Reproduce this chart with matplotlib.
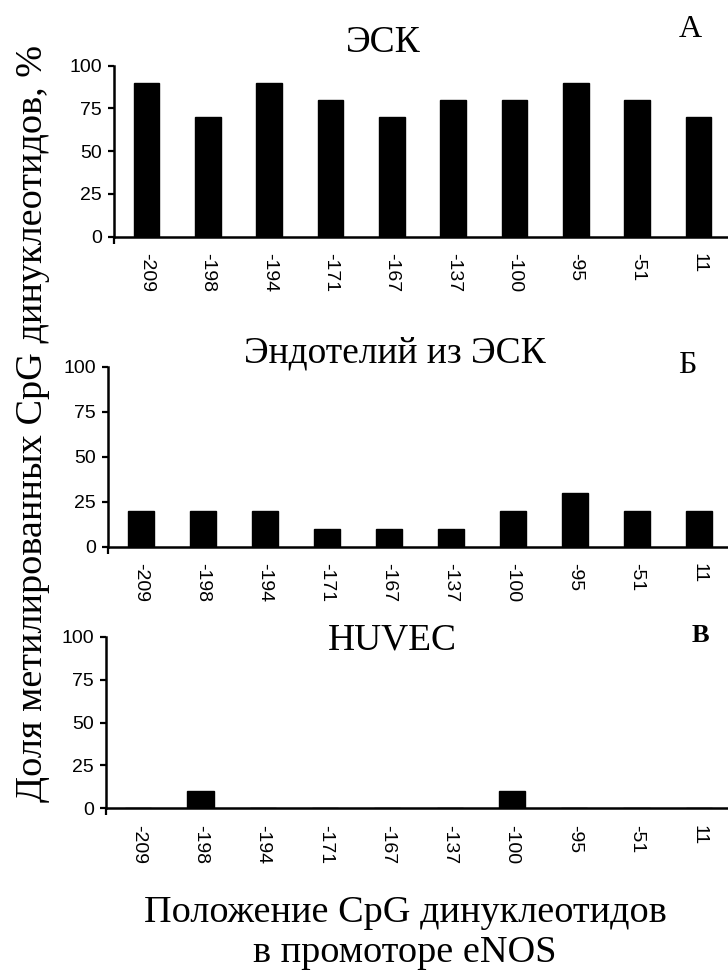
import matplotlib
matplotlib.use('Agg')
import matplotlib.pyplot as plt
import numpy as np

# CpG positions in the eNOS promoter
positions = ['-209', '-198', '-194', '-171', '-167', '-137', '-100', '-95', '-51', '11']

# share of methylated CpG, %
esc = [90, 70, 90, 80, 70, 80, 80, 90, 80, 70]
endo = [20, 20, 20, 10, 10, 10, 20, 30, 20, 20]
huvec = [0, 10, 0, 0, 0, 0, 10, 0, 0, 0]

titles = ['ЭСК', 'Эндотелий из ЭСК', 'HUVEC']
letters = ['А', 'Б', 'В']
yticks = [0, 25, 50, 75, 100]

W, H = 728, 974
SERIF = 'Liberation Serif'
SANS = 'Liberation Sans'

# layout in pixels: y-axis x, y of 100, y of 0, first bar centre, last bar centre
layout = [(113.7, 65.7, 236.7, 146.5, 698.5),
          (107.7, 366.7, 546.6, 140.9, 698.7),
          (105.8, 636.7, 808.3, 138.3, 698.8)]
title_pos = [(383, 52), (395, 363), (392, 650)]
letter_pos = [(690, 37, 'normal', 23), (687, 373, 'normal', 23), (700, 642, 'bold', 19)]

fig = plt.figure(figsize=(W / 100, H / 100), dpi=100)

for k, vals in enumerate([esc, endo, huvec]):
    x0, ytop, ybot, c0, c9 = layout[k]
    ax = fig.add_axes([x0 / W, 1 - ybot / H, 1 - x0 / W, (ybot - ytop) / H])
    step = (c9 - c0) / 9
    left = -(c0 - x0) / step
    ax.set_xlim(left, left + (W - x0) / step)
    ax.set_ylim(0, 100)
    xs = np.arange(len(positions))
    ax.bar(xs, vals, width=0.42, color='black', edgecolor='black', zorder=1)

    for s in ['top', 'right']:
        ax.spines[s].set_visible(False)
    for s in ['left', 'bottom']:
        ax.spines[s].set_linewidth(1.8)
        ax.spines[s].set_zorder(3)

    ax.set_yticks(yticks)
    ax.set_yticklabels([str(t) for t in yticks], fontfamily=SANS, fontsize=14)
    ax.tick_params(axis='y', direction='out', length=4.5, width=1.6, pad=4)

    ax.set_xticks(xs)
    ax.set_xticklabels(positions, rotation=270, fontfamily=SANS, fontsize=14)
    ax.tick_params(axis='x', which='major', length=0, pad=12)
    # small downward tick where the axes cross
    ax.set_xticks([left], minor=True)
    ax.tick_params(axis='x', which='minor', direction='out', length=5, width=1.6)

    tx, ty = title_pos[k]
    fig.text(tx / W, 1 - ty / H, titles[k], ha='center', va='baseline',
             fontfamily=SERIF, fontsize=27)
    lx, ly, lw, ls = letter_pos[k]
    fig.text(lx / W, 1 - ly / H, letters[k], ha='center', va='baseline',
             fontfamily=SERIF, fontsize=ls, fontweight=lw)

fig.text(33 / W, 1 - 423 / H, 'Доля метилированных CpG динуклеотидов, %',
         rotation=90, ha='center', va='center', fontfamily=SERIF, fontsize=27.5)
fig.text(405 / W, 1 - 922 / H, 'Положение CpG динуклеотидов', ha='center',
         va='baseline', fontfamily=SERIF, fontsize=27.5)
fig.text(405 / W, 1 - 962 / H, 'в промоторе eNOS', ha='center',
         va='baseline', fontfamily=SERIF, fontsize=27.5)

fig.savefig('out.png', dpi=100)
